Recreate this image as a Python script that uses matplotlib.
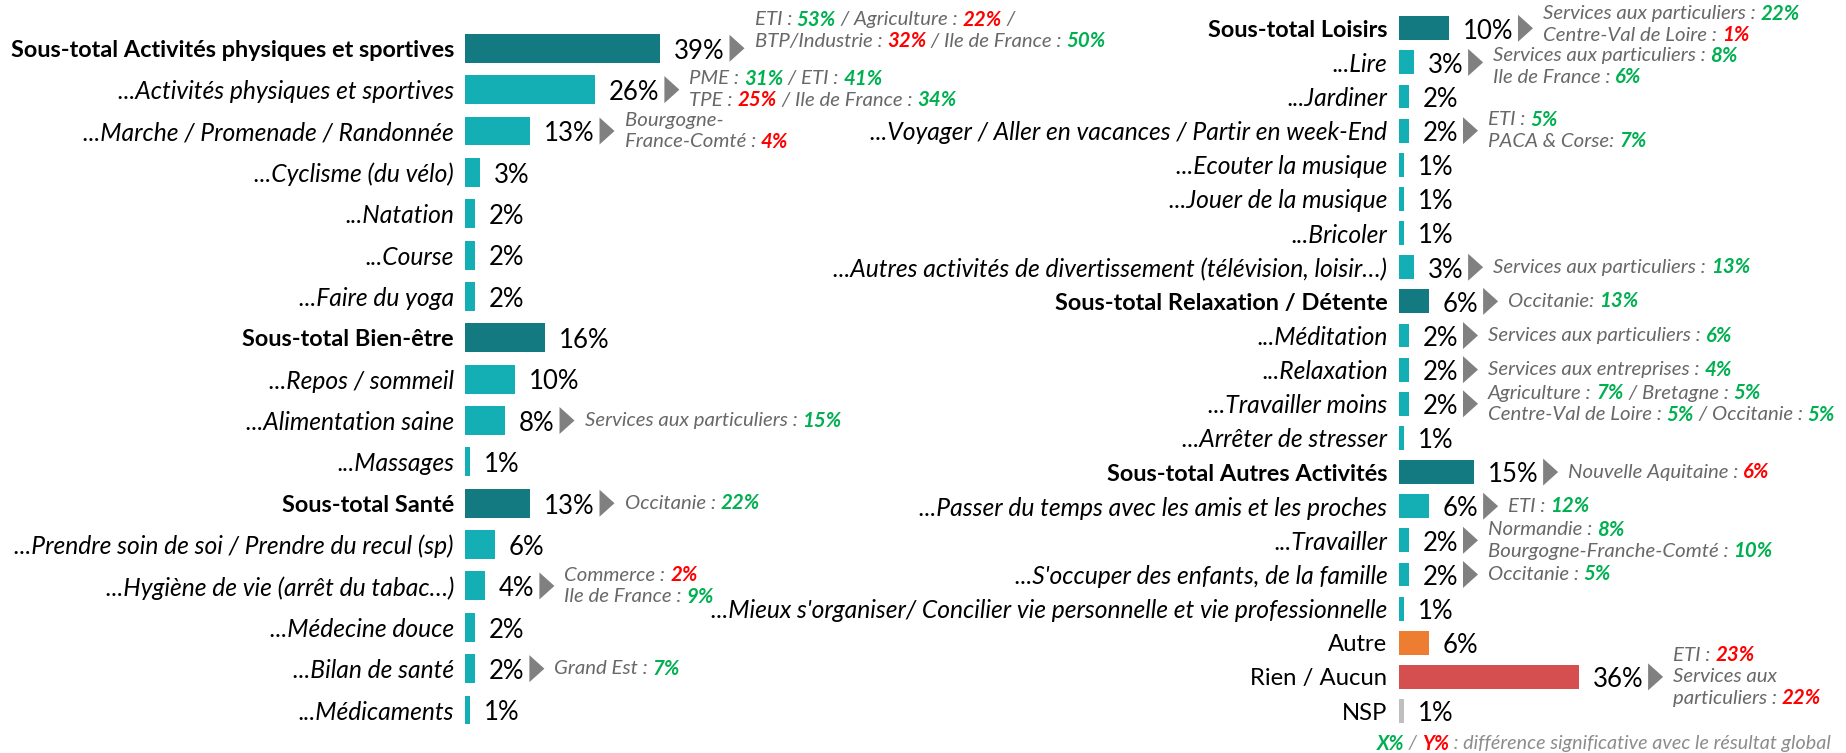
import matplotlib.pyplot as plt
from matplotlib.patches import Polygon

plt.rcParams["font.family"] = ["Lato", "DejaVu Sans"]

# left column
left_labels = [
    "Sous-total Activités physiques et sportives",
    "...Activités physiques et sportives",
    "...Marche / Promenade / Randonnée",
    "...Cyclisme (du vélo)",
    "...Natation",
    "...Course",
    "...Faire du yoga",
    "Sous-total Bien-être",
    "...Repos / sommeil",
    "...Alimentation saine",
    "...Massages",
    "Sous-total Santé",
    "...Prendre soin de soi / Prendre du recul (sp)",
    "...Hygiène de vie (arrêt du tabac…)",
    "...Médecine douce",
    "...Bilan de santé",
    "...Médicaments",
]
left_values = [39, 26, 13, 3, 2, 2, 2, 16, 10, 8, 1, 13, 6, 4, 2, 2, 1]

# right column
right_labels = [
    "Sous-total Loisirs",
    "...Lire",
    "...Jardiner",
    "...Voyager / Aller en vacances / Partir en week-End",
    "...Ecouter la musique",
    "...Jouer de la musique",
    "...Bricoler",
    "...Autres activités de divertissement (télévision, loisir…)",
    "Sous-total Relaxation / Détente",
    "...Méditation",
    "...Relaxation",
    "...Travailler moins",
    "...Arrêter de stresser",
    "Sous-total Autres Activités",
    "...Passer du temps avec les amis et les proches",
    "...Travailler",
    "...S'occuper des enfants, de la famille",
    "...Mieux s'organiser/ Concilier vie personnelle et vie professionnelle",
    "Autre",
    "Rien / Aucun",
    "NSP",
]
right_values = [10, 3, 2, 2, 1, 1, 1, 3, 6, 2, 2, 2, 1, 15, 6, 2, 2, 1, 6, 36, 1]

# significant differences: "|+x|" = above (green), "|-x|" = below (red)
left_notes = {
    0: ["ETI : |+53%| / Agriculture : |-22%| /", "BTP/Industrie : |-32%| / Ile de France : |+50%"],
    1: ["PME : |+31%| / ETI : |+41%", "TPE : |-25%| / Ile de France : |+34%"],
    2: ["Bourgogne-", "France-Comté : |-4%"],
    9: ["Services aux particuliers : |+15%"],
    11: ["Occitanie : |+22%"],
    13: ["Commerce : |-2%", "Ile de France : |+9%"],
    15: ["Grand Est : |+7%"],
}
right_notes = {
    0: ["Services aux particuliers : |+22%", "Centre-Val de Loire : |-1%"],
    1: ["Services aux particuliers : |+8%", "Ile de France : |+6%"],
    3: ["ETI : |+5%", "PACA & Corse: |+7%"],
    7: ["Services aux particuliers : |+13%"],
    8: ["Occitanie: |+13%"],
    9: ["Services aux particuliers : |+6%"],
    10: ["Services aux entreprises : |+4%"],
    11: ["Agriculture : |+7%| / Bretagne : |+5%", "Centre-Val de Loire : |+5%| / Occitanie : |+5%"],
    13: ["Nouvelle Aquitaine : |-6%"],
    14: ["ETI : |+12%"],
    15: ["Normandie : |+8%", "Bourgogne-Franche-Comté : |+10%"],
    16: ["Occitanie : |+5%"],
    19: ["ETI : |-23%", "Services aux", "particuliers : |-22%"],
}

DARK = "#127A80"
LIGHT = "#14AEB5"
OTHER_COLORS = {"Autre": "#ED7D31", "Rien / Aucun": "#D64F50", "NSP": "#BFBFBF"}
NOTE_GRAY = "#686868"
GREEN = "#00B050"
RED = "#FF0000"

BOLD_SIZE = 16.9
ITALIC_SIZE = 17.7
LABEL_SIZE = 17.2
VALUE_SIZE = 18.5
NOTE_SIZE = 14.7

W, H = 1846, 753
fig = plt.figure(figsize=(W / 100, H / 100), dpi=100)

# axes placed in pixels: (x of 0%, top of first row, bottom of last row)
ax_left = fig.add_axes([465 / W, 22.3 / H, 300 / W, 703.1 / H])
ax_right = fig.add_axes([1398.6 / W, 24.9 / H, 300 / W, 716.9 / H])


def draw_panel(ax, labels, values):
    n = len(labels)
    colors = []
    for lab in labels:
        if lab.startswith("Sous-total"):
            colors.append(DARK)
        elif lab.startswith("..."):
            colors.append(LIGHT)
        else:
            colors.append(OTHER_COLORS[lab])
    ax.barh(range(n), values, height=0.7, color=colors)
    ax.set_xlim(0, 60)
    ax.set_ylim(n - 0.5, -0.5)
    ax.set_yticks(range(n))
    ax.set_yticklabels(labels, fontsize=LABEL_SIZE)
    for tl, lab in zip(ax.get_yticklabels(), labels):
        if lab.startswith("Sous-total"):
            tl.set_fontweight("bold")
            tl.set_fontsize(BOLD_SIZE)
        elif lab.startswith("..."):
            tl.set_fontstyle("italic")
            tl.set_fontsize(ITALIC_SIZE)
    ax.tick_params(axis="y", length=0, pad=8)
    ax.set_xticks([])
    for s in ax.spines.values():
        s.set_visible(False)
    texts = []
    for i, v in enumerate(values):
        t = ax.annotate(f"{v}%", xy=(v, i), xytext=(10, -2), textcoords="offset points",
                        va="center", ha="left", fontsize=VALUE_SIZE, color="black")
        texts.append(t)
    return texts


def write_line(ax, x, y, line, size=NOTE_SIZE, gray=NOTE_GRAY):
    prev = None
    for seg in line.split("|"):
        if not seg:
            continue
        color, weight = gray, "normal"
        if seg[0] == "+":
            seg, color, weight = seg[1:], GREEN, "bold"
        elif seg[0] == "-":
            seg, color, weight = seg[1:], RED, "bold"
        if prev is None:
            prev = ax.annotate(seg, xy=(x, y), xycoords="figure pixels", va="center", ha="left",
                               fontsize=size, color=color, fontweight=weight, style="italic")
        else:
            prev = ax.annotate(seg, xy=(1, 0.5), xycoords=prev, va="center", ha="left",
                               fontsize=size, color=color, fontweight=weight, style="italic")


def add_notes(ax, texts, notes, lift=None):
    renderer = fig.canvas.get_renderer()
    lift = lift or {}
    line_h = 21.5
    for row, lines in notes.items():
        bb = texts[row].get_window_extent(renderer)
        yc = ax.transData.transform((0, row))[1]
        x0 = bb.x1 + 5
        tri = Polygon([(x0 / W, (yc + 13.5) / H), ((x0 + 15) / W, yc / H), (x0 / W, (yc - 13.5) / H)],
                      closed=True, transform=fig.transFigure, color="#808080", lw=0)
        fig.add_artist(tri)
        yb = yc + lift.get(row, 0)
        n = len(lines)
        for i, line in enumerate(lines):
            write_line(ax, x0 + 25, yb + ((n - 1) / 2 - i) * line_h, line)


left_texts = draw_panel(ax_left, left_labels, left_values)
right_texts = draw_panel(ax_right, right_labels, right_values)

fig.canvas.draw()
add_notes(ax_left, left_texts, left_notes, lift={0: 18})
add_notes(ax_right, right_texts, right_notes, lift={0: 4, 1: -4})

# footer legend
write_line(ax_right, 1377, 9, "|+X%| / |-Y%| : différence significative avec le résultat global",
           size=14.2, gray="#8C8C8C")

fig.savefig("out.png", dpi=100)
